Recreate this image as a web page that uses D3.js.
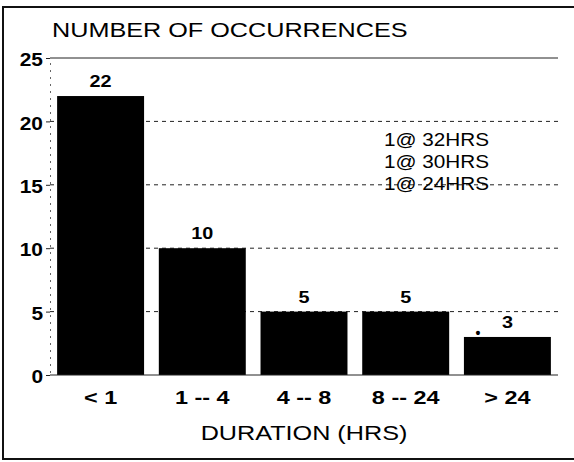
<!DOCTYPE html>
<html>
<head>
<meta charset="utf-8">
<script src="https://cdn.jsdelivr.net/npm/d3@7"></script>
<style>
    body { margin: 0; background: #fff; }
    svg { display: block; font-family: "Liberation Sans", Arial, sans-serif; }
</style>
</head>
<body>
<svg id="chart" width="574" height="462"></svg>
<script>
// Chart data
const durations = ['< 1', '1 -- 4', '4 -- 8', '8 -- 24', '> 24'];
const occurrences = [22, 10, 5, 5, 3];
const yTicks = [0, 5, 10, 15, 20, 25];
const notes = ['1@ 32HRS', '1@ 30HRS', '1@ 24HRS'];

const svg = d3.select('#chart');
const stretch = 1.2;

// widen glyphs a bit, the scanned lettering is broader than Arial
function widen(sel, k) {
    sel.each(function() {
        const len = this.getComputedTextLength();
        d3.select(this).attr('textLength', len * (k || stretch)).attr('lengthAdjust', 'spacingAndGlyphs');
    });
}

const x = d3.scaleBand().domain(durations).range([50, 558]).paddingInner(0.145).paddingOuter(0.07);
const y = d3.scaleLinear().domain([0, 25]).range([375, 58]);

// Frame
svg.append('path')
    .attr('d', 'M574,7 H3 V459 H574')
    .attr('fill', 'none').attr('stroke', '#111').attr('stroke-width', 2);

// Gridlines
svg.append('g').selectAll('line').data(yTicks.filter(d => d > 0)).enter().append('line')
    .attr('x1', 50).attr('x2', 558)
    .attr('y1', d => y(d)).attr('y2', d => y(d))
    .attr('stroke', '#222').attr('stroke-width', 1)
    .attr('stroke-dasharray', d => d === 25 ? null : '4,4');

// Y axis
const yAxis = svg.append('g').attr('transform', 'translate(50,0)')
    .call(d3.axisLeft(y).tickValues(yTicks).tickSize(4).tickPadding(3));
yAxis.select('.domain').attr('stroke', '#666').attr('stroke-dasharray', '2,5');
yAxis.selectAll('.tick line').attr('stroke', '#222');
yAxis.selectAll('.tick text')
    .attr('font-size', 19).attr('font-weight', 'bold').attr('fill', '#000')
    .attr('font-family', '"Liberation Sans", Arial, sans-serif').attr('dy', '0.4em');
widen(yAxis.selectAll('.tick text'), 1.1);

// Bars
svg.append('g').selectAll('rect').data(occurrences).enter().append('rect')
    .attr('x', (d, i) => x(durations[i]))
    .attr('y', d => y(d))
    .attr('width', x.bandwidth())
    .attr('height', d => y(0) - y(d))
    .attr('fill', '#000');

// X baseline
svg.append('line').attr('x1', 50).attr('x2', 558).attr('y1', y(0)).attr('y2', y(0))
    .attr('stroke', '#222').attr('stroke-width', 1);

// Value labels
const vals = svg.append('g').selectAll('text').data(occurrences).enter().append('text')
    .attr('x', (d, i) => x(durations[i]) + x.bandwidth() / 2)
    .attr('y', d => y(d) - 9)
    .attr('text-anchor', 'middle')
    .attr('font-size', 16.5).attr('font-weight', 'bold')
    .text(d => d);
widen(vals, 1.2);

// Small mark next to the last bar label
svg.append('text')
    .attr('x', x(durations[4]) + 14).attr('y', y(3) + 1)
    .attr('text-anchor', 'middle').attr('font-size', 14).attr('font-weight', 'bold')
    .text('•');

// Category labels
const cats = svg.append('g').selectAll('text').data(durations).enter().append('text')
    .attr('x', d => x(d) + x.bandwidth() / 2)
    .attr('y', 404)
    .attr('text-anchor', 'middle')
    .attr('font-size', 18).attr('font-weight', 'bold')
    .text(d => d);
widen(cats, 1.3);

// Notes near the 15 gridline
const noteText = svg.append('g').selectAll('text').data(notes).enter().append('text')
    .attr('x', 489)
    .attr('y', (d, i) => y(15) + 5 - (notes.length - 1 - i) * 22)
    .attr('text-anchor', 'end')
    .attr('font-size', 18)
    .text(d => d);
widen(noteText, 1.15);

// Titles
const title = svg.append('text').attr('x', 52).attr('y', 37)
    .attr('font-size', 21).text('NUMBER OF OCCURRENCES');
widen(title);

const xTitle = svg.append('text').attr('x', 304).attr('y', 440)
    .attr('text-anchor', 'middle').attr('font-size', 21).text('DURATION (HRS)');
widen(xTitle);
</script>
</body>
</html>
